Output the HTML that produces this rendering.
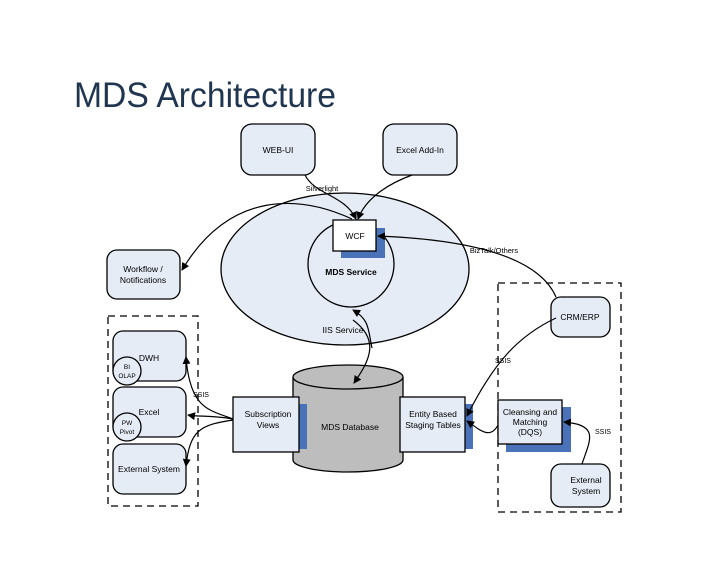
<!DOCTYPE html>
<html><head><meta charset="utf-8"><style>
html,body{margin:0;padding:0;background:#fff;}
svg{display:block;font-family:"Liberation Sans",sans-serif;}
</style></head><body>
<svg width="728" height="563" viewBox="0 0 728 563" xmlns="http://www.w3.org/2000/svg">
<defs>
<marker id="a" markerWidth="8" markerHeight="8" refX="7" refY="4" orient="auto" markerUnits="userSpaceOnUse"><path d="M0,0 L8,4 L0,8 z" fill="#000"/></marker>
</defs>
<rect width="728" height="563" fill="#fff"/>
<text x="74" y="107" font-size="35" fill="#1f3550" textLength="262" lengthAdjust="spacingAndGlyphs">MDS Architecture</text>

<g stroke="#000" stroke-width="1.3" fill="#e6ecf5">
<rect x="241" y="124" width="74" height="51" rx="11"/>
<rect x="383" y="124" width="74" height="51" rx="11"/>
<ellipse cx="345" cy="269" rx="124" ry="76"/>
<circle cx="351" cy="264" r="43"/>
<rect x="107" y="250" width="73" height="49" rx="10"/>
</g>
<rect x="341" y="228" width="44" height="30" fill="#4a72b8"/>
<rect x="333" y="220" width="43" height="31" fill="#fff" stroke="#000" stroke-width="1.3"/>

<g fill="none" stroke="#000" stroke-width="1.3" stroke-dasharray="7,5">
<rect x="108" y="316" width="90" height="190"/>
<rect x="498" y="283" width="123" height="229"/>
</g>

<g stroke="#000" stroke-width="1.3" fill="#e6ecf5">
<rect x="113" y="331" width="73" height="50" rx="10"/>
<rect x="113" y="387" width="73" height="50" rx="10"/>
<rect x="113" y="444" width="73" height="50" rx="10"/>
<circle cx="127" cy="371" r="14"/>
<circle cx="127" cy="427" r="14"/>
<rect x="551" y="297" width="59" height="40" rx="10"/>
<rect x="551" y="464" width="59" height="43" rx="10"/>
</g>

<!-- cylinder -->
<g stroke="#000" stroke-width="1.3" fill="#bdbdbd">
<path d="M293,377 L293,460 A55,12 0 0 0 403,460 L403,377"/>
<ellipse cx="348" cy="377" rx="55" ry="12"/>
</g>

<rect x="241" y="404" width="66" height="45" fill="#4a72b8"/>
<rect x="233" y="397" width="66" height="55" fill="#e6ecf5" stroke="#000" stroke-width="1.3"/>
<rect x="409" y="404" width="64" height="45" fill="#4a72b8"/>
<rect x="400" y="397" width="65" height="55" fill="#e6ecf5" stroke="#000" stroke-width="1.3"/>
<rect x="506" y="407" width="65" height="45" fill="#4a72b8"/>
<rect x="498" y="400" width="64" height="44" fill="#e6ecf5" stroke="#000" stroke-width="1.3"/>

<!-- connectors -->
<g fill="none" stroke="#000" stroke-width="1.2" marker-end="url(#a)">
<path d="M305,175 C315,195 345,195 356,219"/>
<path d="M412,175 C385,185 365,200 358,219"/>
<path d="M352,219 C300,195 230,190 182,270"/>
<path d="M556,297 C540,260 480,240 378,236"/>
<path d="M353,320 C380,340 370,360 354,383"/>
<path d="M372,348 C368,330 370,320 353,310" marker-end="url(#a)"/>
<path d="M233,419 C210,410 190,410 186,357"/>
<path d="M233,419 C210,415 200,417 188,415"/>
<path d="M233,420 C200,425 190,430 186,466"/>
<path d="M556,318 C520,335 495,360 467,416"/>
<path d="M498,425 C490,440 480,430 467,421"/>
<path d="M582,464 C590,440 600,425 564,422"/>
</g>

<g font-size="8.5" fill="#000" text-anchor="middle">
<text x="278" y="153">WEB-UI</text>
<text x="420" y="153">Excel Add-In</text>
<text x="355" y="239">WCF</text>
<text x="351" y="275" font-weight="bold">MDS Service</text>
<text x="143" y="272">Workflow /</text>
<text x="143" y="283">Notifications</text>
<text x="343" y="333">IIS Service</text>
<text x="322" y="191" font-size="7.5">Silverlight</text>
<text x="494" y="253" font-size="7.5">BizTalk/Others</text>
<text x="149" y="361">DWH</text>
<text x="127" y="369" font-size="6.5">BI</text>
<text x="127" y="378" font-size="6.5">OLAP</text>
<text x="149" y="415">Excel</text>
<text x="127" y="425" font-size="6.5">PW</text>
<text x="127" y="434" font-size="6.5">Pivot</text>
<text x="149" y="472">External System</text>
<text x="201" y="397" font-size="7">SSIS</text>
<text x="268" y="417">Subscription</text>
<text x="268" y="428">Views</text>
<text x="350" y="430">MDS Database</text>
<text x="433" y="417">Entity Based</text>
<text x="433" y="428">Staging Tables</text>
<text x="530" y="415">Cleansing and</text>
<text x="530" y="425">Matching</text>
<text x="530" y="435">(DQS)</text>
<text x="580" y="320">CRM/ERP</text>
<text x="586" y="483">External</text>
<text x="586" y="494">System</text>
<text x="503" y="363" font-size="7">SSIS</text>
<text x="603" y="434" font-size="7">SSIS</text>
</g>
</svg>
</body></html>
